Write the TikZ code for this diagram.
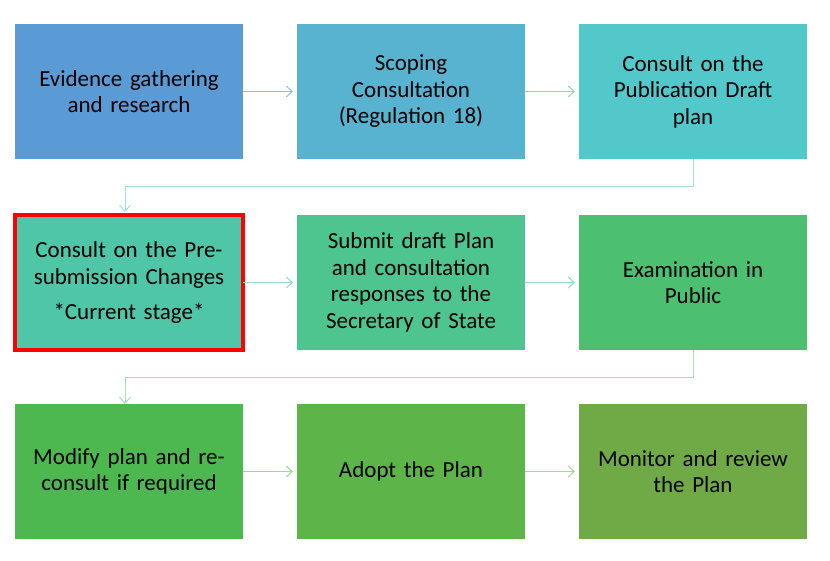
\documentclass[tikz,border=0pt]{standalone}
\usepackage{fontspec}
\setmainfont{Carlito}
\usepackage{xcolor}
\usetikzlibrary{positioning,arrows.meta}

\definecolor{stepA}{HTML}{5B9BD5}
\definecolor{stepB}{HTML}{58B3D1}
\definecolor{stepC}{HTML}{53C8CA}
\definecolor{stepD}{HTML}{50C6A8}
\definecolor{stepE}{HTML}{4EC48E}
\definecolor{stepF}{HTML}{4DBF70}
\definecolor{stepG}{HTML}{4CB84F}
\definecolor{stepH}{HTML}{5DB448}
\definecolor{stepI}{HTML}{70AA47}

\begin{document}
\begin{tikzpicture}[
      x=1pt, y=1pt,
      node distance=54pt and 54pt,
      stage/.style={rectangle, minimum width=228pt, minimum height=135pt,
                    text width=224pt, align=center, inner sep=0pt, outer sep=0pt,
                    font=\fontsize{23}{26.5}\selectfont},
      arr/.style={line width=1pt, -{Straight Barb[length=6pt,width=11pt]}, shorten >=4pt},
    ]
    \useasboundingbox (0,0) rectangle (830,-561);
    % row 1
    \node[stage, fill=stepA, anchor=north west] (s1) at (15,-24) {Evidence gathering\\and research};
    \node[stage, fill=stepB, right=of s1] (s2) {Scoping\\Consultation\\(Regulation 18)};
    \node[stage, fill=stepC, right=of s2] (s3) {Consult on the\\Publication Draft\\plan};
    % row 2
    \node[stage, fill=stepD, below=56pt of s1, draw=red, line width=4.5pt] (s4) {Consult on the Pre-\\submission Changes\\[9pt]*Current stage*};
    \node[stage, fill=stepE, right=of s4] (s5) {Submit draft Plan\\and consultation\\responses to the\\Secretary of State};
    \node[stage, fill=stepF, right=of s5] (s6) {Examination in\\Public};
    % row 3
    \node[stage, fill=stepG, below=54pt of s4] (s7) {Modify plan and re-\\consult if required};
    \node[stage, fill=stepH, right=of s7] (s8) {Adopt the Plan};
    \node[stage, fill=stepI, right=of s8] (s9) {Monitor and review\\the Plan};
    % connectors
    \draw[arr, stepA!65] (s1) -- (s2);
    \draw[arr, stepB!65] (s2) -- (s3);
    \draw[arr, stepC!55, shorten >=3pt] (s3.south) -- ++(0,-28) -| ([xshift=-4pt]s4.north);
    \draw[arr, stepD!60] (s4) -- (s5);
    \draw[arr, stepE!60] (s5) -- (s6);
    \draw[arr, stepF!50, shorten >=0pt] (s6.south) -- ++(0,-27) -| ([xshift=-4pt]s7.north);
    \draw[arr, stepG!55] (s7) -- (s8);
    \draw[arr, stepH!55] (s8) -- (s9);
  \end{tikzpicture}
\end{document}
